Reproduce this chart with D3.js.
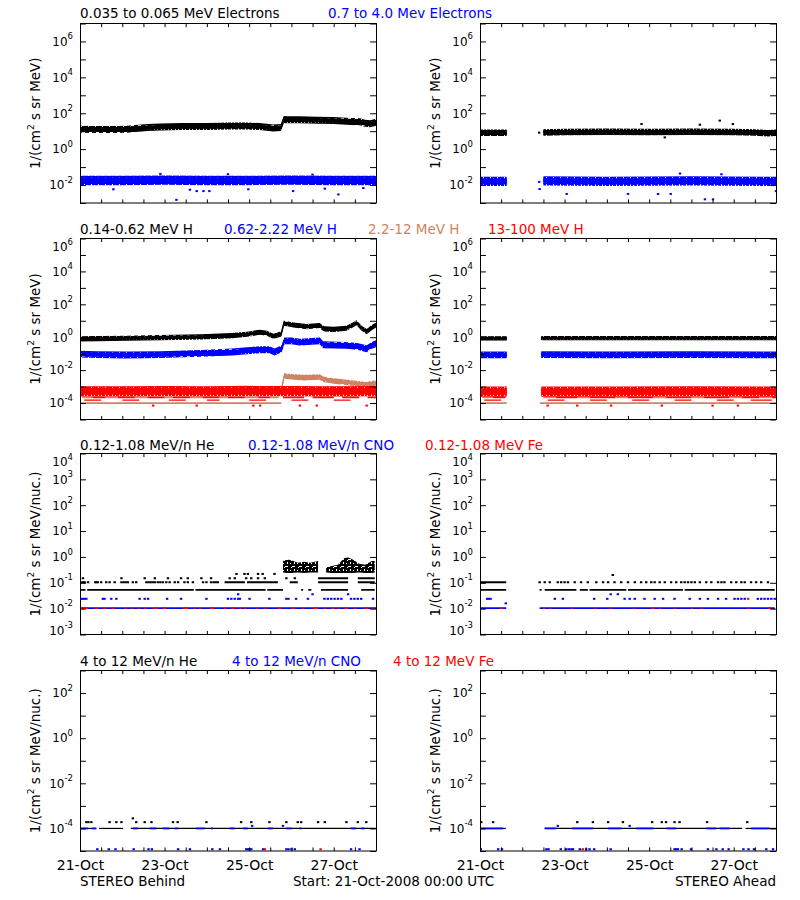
<!DOCTYPE html>
<html><head><meta charset="utf-8">
<script src="https://cdn.jsdelivr.net/npm/d3@7"></script>
<style>body{margin:0;background:#fff}svg{display:block}text{font-family:"DejaVu Sans",sans-serif}</style>
</head><body><svg id="c" width="800" height="900"></svg>
<script>
// ---------------- DATA ----------------
const START = Date.UTC(2008, 9, 21);
const xTickDays = d3.range(0, 7.01, 0.5);
const xLabelDays = [0, 2, 4, 6];
const colors = {black:"#000000", blue:"#0000ff", brown:"#cd8464", red:"#ff0000"};

const row1Titles = ["0.035 to 0.065 MeV Electrons", "0.7 to 4.0 Mev Electrons"];
const row2Titles = ["0.14-0.62 MeV H", "0.62-2.22 MeV H", "2.2-12 MeV H", "13-100 MeV H"];
const row3Titles = ["0.12-1.08 MeV/n He", "0.12-1.08 MeV/n CNO", "0.12-1.08 MeV Fe"];
const row4Titles = ["4 to 12 MeV/n He", "4 to 12 MeV/n CNO", "4 to 12 MeV Fe"];
const bottomTexts = ["STEREO Behind", "Start: 21-Oct-2008 00:00 UTC", "STEREO Ahead"];

// Row 1: electrons (band centres, days since start)
const stbElecLowT = [0,0.4,0.8,1.1,1.6,1.9,2.4,3.0,3.5,3.95,4.25,4.57,4.75,4.82,4.9,5.2,5.6,6.0,6.4,6.62,6.74,6.86,7.0];
const stbElecLowV = [13,12.6,12.3,13,16,17,18,18,19.5,19.5,18,15,16,45,43,43,41,39,35,34,27.5,26,32];
const stbElecHighT = [0,1,2,3,4,5,6,7];
const stbElecHighV = [0.018,0.018,0.019,0.018,0.018,0.019,0.018,0.018];
const stbElecHighOut = [[0.79,0.0058],[2.28,0.0015],[2.6,0.0055],[2.76,0.0046],[2.92,0.0046],[3.06,0.0046],[3.98,0.0058],[5.04,0.0046],[5.79,0.0063],[6.11,0.003],[6.7,0.0068],[1.9,0.042],[3.5,0.04],[5.5,0.038]];
const staElecLowT = [0,0.63,1.0,1.5,2,3,4,5,6,6.5,6.8,7];
const staElecLowV = [8.3,8.3,null,8.5,9,9.2,9,9.2,9,8.5,7.6,8.3];
const staElecLowOut = [[1.40,8.3],[3.82,25],[5.2,23],[5.67,39],[5.98,25],[4.37,4.5]];
const staElecHighT = [0,0.63,1.0,1.5,3,5,7];
const staElecHighV = [0.016,0.016,null,0.017,0.016,0.017,0.016];
const staElecHighOut = [[1.40,0.015],[1.41,0.006],[2.05,0.0032],[3.5,0.0032],[4.21,0.0032],[4.51,0.0032],[5.32,0.0016],[5.51,0.0016],[7.0,0.0046],[4.73,0.044],[5.71,0.04]];

// Row 2: protons
const stbH1T = [0,0.4,1.1,1.9,2.85,3.6,4.0,4.25,4.42,4.57,4.69,4.76,4.82,4.9,5.05,5.36,5.67,5.72,5.78,6.0,6.3,6.42,6.54,6.66,6.78,6.9,7.0];
const stbH1V = [0.79,0.83,0.87,0.95,1.05,1.26,1.58,2.0,1.74,1.15,1.38,1.6,6.9,6.6,5.5,4.4,5.2,4.0,3.2,3.0,3.5,5.0,7.6,3.5,2.2,3.8,5.5];
const stbH2T = [0,0.4,1.1,1.9,2.85,3.6,4.25,4.48,4.6,4.72,4.77,4.83,5.0,5.2,5.67,5.75,6.3,6.55,6.78,6.9,7.0];
const stbH2V = [0.095,0.087,0.083,0.087,0.105,0.126,0.174,0.174,0.126,0.174,0.2,0.6,0.6,0.5,0.6,0.35,0.32,0.28,0.2,0.32,0.4];
const stbH3T = [4.77,4.83,5.0,5.3,5.67,5.75,6.0,6.38,6.78,6.95,7.0];
const stbH3V = [0.0008,0.0044,0.004,0.0035,0.0038,0.0028,0.0022,0.0017,0.0013,0.0016,0.0015];
const stbH4T = [0,1,2,3,4,5,6,7];
const stbH4V = [5.2e-4,5.2e-4,5.3e-4,5.2e-4,5.4e-4,5.3e-4,5.2e-4,5.3e-4];
const stbH3Base1 = [[0,4.76]];
const stbH3Base2 = [[0.05,0.3],[0.6,0.9],[1.3,1.6],[2.0,2.2],[2.6,2.9],[3.3,3.5],[3.9,4.2],[4.5,4.7]];
const stbH4Base2 = [[0.3,0.6],[0.9,1.3],[1.6,2.0],[2.2,2.6],[2.9,3.3],[3.5,3.9],[4.2,4.5],[4.8,5.3],[5.5,6.0],[6.2,6.6],[6.8,7.0]];
const stbH4Base15 = [[0.1,0.5],[1.0,1.4],[2.1,2.5],[3.0,3.3],[4.0,4.4],[5.0,5.4],[6.0,6.4]];
const stbH4Low = [1.73,2.76,4.1,4.26,5.2,5.6,6.78];
const staH1T = [0,0.63,1.0,1.45,3,5,7];
const staH1V = [0.85,0.85,null,0.87,0.87,0.88,0.87];
const staH2T = [0,0.63,1.0,1.45,3,5,7];
const staH2V = [0.085,0.085,null,0.088,0.085,0.088,0.085];
const staH4T = [0,0.63,1.0,1.45,3,5,7];
const staH4V = [5.0e-4,5.0e-4,null,5.0e-4,5.0e-4,5.1e-4,5.0e-4];
const staH3Base1 = [[0,0.63],[1.42,7]];
const staH3Base2 = [[0.05,0.3],[1.5,1.8],[2.3,2.6],[3.2,3.5],[4.1,4.4],[5.0,5.3],[5.9,6.2],[6.6,6.9]];
const staH4Base2 = [[0.3,0.6],[1.8,2.3],[2.6,3.2],[3.5,4.1],[4.4,5.0],[5.3,5.9],[6.2,6.6],[6.9,7.0]];
const staH4Base15 = [[0.1,0.5],[1.6,2.0],[2.6,3.0],[3.6,4.0],[4.6,5.0],[5.6,6.0],[6.4,6.9]];
const staH4Low = [1.6,2.3,3.1,4.3,5.5,6.1];

// Row 3: 0.12-1.08 MeV/n ions (count-quantised levels)
const stbHeLine05 = [[0.0,0.13],[0.17,2.69],[2.73,4.39],[4.43,4.8],[5.23,5.27],[5.4,5.47],[5.7,6.34],[6.65,6.97]];
const stbHeDots01 = [0.03,0.08,0.11,0.19,0.36,0.39,0.42,0.5,0.62,0.7,0.82,0.98,1.03,1.08,1.13,1.25,1.33,1.57,1.62,1.67,1.72,1.77,1.84,1.9,1.96,2.04,2.12,2.24,2.32,2.47,2.55,2.67,2.91,2.99,3.1,3.16,3.21,3.26];
const stbHeLine01 = [[3.42,3.9],[3.95,4.68],[4.96,5.15],[5.63,6.34],[6.57,6.97]];
const stbHeDots015 = [0.07,0.98,1.53,1.77,2.08,2.39,2.55,2.87,3.1,3.54,3.66,3.93,4.05,4.21,4.37,4.88,5.08];
const stbHeLine015 = [[5.63,6.34],[6.57,6.97]];
const stbHeDots02 = [3.7,3.89,3.97,4.21,4.32,4.6];
const stbHeCloudT  = [4.8,4.9,5.0,5.15,5.3,5.45,5.63,5.7,5.82,5.95,6.1,6.25,6.35,6.45,6.6,6.75,6.9,6.97];
const stbHeCloudLo = [0.25,0.24,0.24,0.25,0.24,0.25,0.25,null,0.25,0.24,0.24,0.24,0.24,0.24,0.25,0.24,0.24,0.25];
const stbHeCloudHi = [0.7,0.8,0.75,0.6,0.65,0.6,0.7,null,0.4,0.45,0.5,0.9,0.95,0.8,0.55,0.5,0.7,0.7];
const stbCnoDots025 = [0.03,0.07,0.11,0.15,0.54,0.58,0.74,0.86,1.41,1.53,1.61,2.06,2.39,2.99,3.5,3.58,3.66,3.74,3.78,4.01,4.48,4.88,4.93,5.11,5.39,5.78,5.86,5.94,6.02,6.1,6.18,6.41,6.49,6.57,6.65,6.93];
const stbCnoDots04 = [3.74,5.5,6.34];
const stbCnoLine01 = [[0,7]];
const stbFeSegs01 = [[0.0,0.19],[0.35,0.43],[0.54,0.62],[0.74,0.82],[1.06,1.1],[1.21,1.25],[1.36,1.38],[1.52,1.54],[1.73,1.84],[1.96,2.04],[2.43,2.55],[2.7,2.72],[2.82,2.84],[3.07,3.18],[3.41,3.43],[3.58,3.66],[3.77,3.79],[3.88,3.9],[4.17,4.21],[4.36,4.38],[4.68,4.76],[5.0,5.08],[5.26,5.28],[5.51,5.63],[5.77,5.79],[5.94,6.02],[6.09,6.11],[6.26,6.34],[6.48,6.5],[6.73,6.81],[6.89,6.97]];
const staHeLine05 = [[0.016,0.62],[1.41,1.45],[1.53,2.28],[2.36,2.55],[2.59,3.46],[3.5,4.8],[4.84,6.97]];
const staHeLine01 = [[0.016,0.62]];
const staHeDots01 = [1.41,1.53,1.65,1.84,1.92,2.0,2.08,2.24,2.39,2.55,2.75,2.91,3.03,3.18,3.34,3.5,3.66,3.81,3.93,4.05,4.13,4.25,4.37,4.52,4.64,4.76,4.84,4.92,5.0,5.08,5.2,5.35,5.47,5.63,5.71,5.78,5.94,6.06,6.18,6.26,6.41,6.53,6.65,6.81];
const staHeDots02 = [3.14];
const staCnoDots025 = [0.17,0.21,0.25,1.77,1.96,2.7,3.01,3.42,3.54,3.66,3.89,4.13,4.33,4.6,4.96,5.2,5.39,5.63,5.82,6.02,6.1,6.18,6.26,6.57,6.65,6.73,6.81,6.89,6.97];
const staCnoDots04 = [3.09,3.26];
const staCnoDots016 = [0.61];
const staCnoLine01 = [[0.016,0.62],[1.41,6.97]];
const staFeSegs01 = [[0.47,0.54],[1.49,1.53],[1.64,1.66],[2.16,2.2],[2.7,2.72],[3.06,3.08],[3.62,3.66],[4.05,4.13],[4.24,4.26],[4.59,4.61],[4.99,5.01],[5.22,5.24],[6.33,6.35],[6.81,6.89]];
const staFeDots025 = [6.34];

// Row 4: 4-12 MeV/n ions
const stbHe4Line = [[0,0.38],[0.45,1.02],[1.2,7.0]];
const stbHe4Dots2 = [0.15,0.2,0.27,0.7,0.86,0.98,1.33,1.53,1.69,2.2,2.31,2.99,3.81,4.05,4.48,4.88,5.15,5.23,5.63,5.79,6.3,6.57,6.77];
const stbHe4Dots3 = [1.25];
const stbCno4Segs = [[0.03,0.19],[0.27,0.39],[1.25,1.37],[1.65,1.81],[1.96,2.12],[2.24,2.32],[2.75,2.95],[3.1,3.12],[3.54,3.66],[3.86,3.97],[4.44,4.56],[4.88,5.0],[5.19,5.21],[6.41,6.53],[6.65,6.73]];
const stbCno4High = [4.07,4.8];
const stbCno4Low = [0.41,0.68,0.84,1.27,1.62,1.7,2.32,2.6,3.13,3.31,3.93,3.97,4.01,4.05,4.33,4.88,4.93,5.0,5.08,6.41,6.61];
const stbFe4Low = [4.37,5.69];
const staHe4Line = [[0,0.61],[1.53,6.2],[6.28,7.0]];
const staHe4Dots2 = [0.03,0.31,2.3,2.67,3.03,3.38,4.07,4.3,4.4,4.6,4.72,5.37,6.32];
const staCno4Segs = [[0.02,0.55],[1.53,1.8],[2.18,2.67],[3.03,3.34],[3.7,4.1],[4.41,4.64],[5.35,5.59],[5.67,5.9],[6.41,6.84]];
const staCno4High = [1.84,3.54];
const staCno4Low = [0.02,0.43,0.52,1.57,1.62,1.91,2.04,2.1,2.16,2.2,2.36,2.51,2.59,2.7,3.09,4.6,4.64,4.68,4.77,4.99,5.39,5.59,5.74,5.88,6.23,6.35,6.48,6.77,6.93];
const staFe4Low = [2.43];

// ---------------- LAYOUT ----------------
const svg = d3.select("#c");
const colX = [80, 480], PW = 296;
const rowLayout = [
  {top:23.5, bot:203, dom:[1e-3,1e7], lab:[-2,0,2,4,6], unit:"MeV)", ty:18},
  {top:238.5, bot:419.5, dom:[1e-5,1e6], lab:[-4,-2,0,2,4,6], unit:"MeV)", ty:234},
  {top:453.5, bot:634.5, dom:[1e-3,1e4], lab:[-3,-2,-1,0,1,2,3,4], unit:"MeV/nuc.)", ty:450},
  {top:670.5, bot:851, dom:[1e-5,1e3], lab:[-4,-2,0,2], unit:"MeV/nuc.)", ty:666}
];
const toDate = d => new Date(START + d * 864e5);

const defs = svg.append("defs");
// irregular speckle tiles to imitate dense scatter of small symbols
const speckleCells = [[0,0],[2,0],[5,0],[1,2],[3,1],[4,3],[0,4],[2,4],[5,4],[3,5],[1,5],[5,2]];
function makeSpeckle(id, color) {
  const pt = defs.append("pattern").attr("id", id).attr("width", 7).attr("height", 7).attr("patternUnits", "userSpaceOnUse");
  speckleCells.forEach(c => pt.append("rect").attr("x", c[0]).attr("y", c[1]).attr("width", 2).attr("height", 2).attr("fill", color));
}
Object.entries(colors).forEach(([k, v]) => makeSpeckle("sp-" + k, v));

function makePanel(r, c) {
  const L = rowLayout[r];
  const xs = d3.scaleUtc().domain([toDate(0), toDate(7)]).range([colX[c], colX[c] + PW]);
  const y = d3.scaleLog().domain(L.dom).range([L.bot, L.top]);
  const id = "clip" + r + c;
  defs.append("clipPath").attr("id", id).append("rect")
    .attr("x", colX[c]).attr("y", L.top).attr("width", PW).attr("height", L.bot - L.top);
  const g = svg.append("g").attr("clip-path", `url(#${id})`);
  return {x: d => xs(toDate(d)), xs, y, g, r, c};
}

function band(p, t, v, spread, key) {
  const data = t.map((d, i) => ({t: d, v: v[i]}));
  const mk = s => { const k = Math.pow(10, s);
    return d3.area().defined(d => d.v != null).x(d => p.x(d.t)).y0(d => p.y(d.v / k)).y1(d => p.y(d.v * k)); };
  p.g.append("path").datum(data).attr("fill", `url(#sp-${key})`).attr("d", mk(spread * 1.3));
  p.g.append("path").datum(data).attr("fill", colors[key]).attr("stroke", colors[key]).attr("stroke-width", 0.5).attr("d", mk(spread * 0.8));
}
function bandLoHi(p, t, lo, hi, key) {
  const data = t.map((d, i) => ({t: d, lo: lo[i], hi: hi[i]}));
  p.g.append("path").datum(data).attr("fill", `url(#sp-${key})`)
    .attr("d", d3.area().defined(d => d.lo != null).x(d => p.x(d.t)).y0(d => p.y(d.lo)).y1(d => p.y(d.hi)));
}
function segs(p, list, value, color, w) {
  p.g.selectAll(null).data(list).enter().append("line")
    .attr("x1", d => p.x(d[0])).attr("x2", d => Math.max(p.x(d[1]), p.x(d[0]) + 2))
    .attr("y1", p.y(value)).attr("y2", p.y(value))
    .attr("stroke", color).attr("stroke-width", w || 1.8);
}
function dots(p, days, value, color) {
  p.g.selectAll(null).data(days).enter().append("rect")
    .attr("x", d => p.x(d) - 1.2).attr("y", p.y(value) - 1).attr("width", 2.4).attr("height", 2).attr("fill", color);
}
function pts(p, pairs, color) {
  p.g.selectAll(null).data(pairs).enter().append("rect")
    .attr("x", d => p.x(d[0]) - 1.2).attr("y", d => p.y(d[1]) - 1).attr("width", 2.4).attr("height", 2).attr("fill", color);
}

function drawAxes(p) {
  const L = rowLayout[p.r], x0 = colX[p.c];
  const ga = svg.append("g");
  const fmt = d3.utcFormat("%d-%b");
  const bottom = d3.axisBottom(p.xs).tickValues(xTickDays.map(toDate)).tickSize(-3.6).tickSizeOuter(0).tickPadding(9)
    .tickFormat(d => (p.r === 3 && xLabelDays.some(k => +toDate(k) === +d)) ? fmt(d) : "");
  const top = d3.axisTop(p.xs).tickValues(xTickDays.map(toDate)).tickSize(-3.6).tickSizeOuter(0).tickFormat("");
  const dec = d3.range(Math.round(Math.log10(L.dom[0])), Math.round(Math.log10(L.dom[1])) + 1).map(e => Math.pow(10, e));
  const left = d3.axisLeft(p.y).tickValues(dec).tickSize(-5.9).tickSizeOuter(0).tickFormat("");
  const right = d3.axisRight(p.y).tickValues(dec).tickSize(-5.9).tickSizeOuter(0).tickFormat("");
  const b = ga.append("g").attr("transform", `translate(0,${L.bot})`).call(bottom);
  ga.append("g").attr("transform", `translate(0,${L.top})`).call(top);
  ga.append("g").attr("transform", `translate(${x0},0)`).call(left);
  ga.append("g").attr("transform", `translate(${x0 + PW},0)`).call(right);
  ga.selectAll(".domain").remove();
  ga.selectAll(".tick line").attr("stroke", "#000").attr("stroke-width", 1);
  b.selectAll("text").attr("font-family", "DejaVu Sans").attr("font-size", 14).attr("fill", "#000");
  ga.append("rect").attr("x", x0 + 0.5).attr("y", L.top).attr("width", PW).attr("height", L.bot - L.top)
    .attr("fill", "none").attr("stroke", "#000").attr("stroke-width", 1);
  // y tick labels 10^n, kept inside the vertical extent of the frame
  L.lab.forEach(e => {
    const base = Math.min(Math.max(p.y(Math.pow(10, e)) + 4.3, L.top + 12.7), L.bot);
    const t = svg.append("text").attr("x", x0 - 7).attr("y", base)
      .attr("text-anchor", "end").attr("font-size", 12).attr("fill", "#000");
    t.append("tspan").text("10");
    t.append("tspan").attr("dy", -6.7).attr("font-size", 8.5).text(String(e));
  });
  // y title
  const yt = svg.append("text").attr("transform", `translate(${x0 - 40},${(L.top + L.bot) / 2}) rotate(-90)`)
    .attr("text-anchor", "middle").attr("font-size", 13.5).attr("fill", "#000");
  yt.append("tspan").text("1/(cm");
  yt.append("tspan").attr("dy", -6).attr("font-size", 9).text("2");
  yt.append("tspan").attr("dy", 6).text(" s sr " + L.unit);
}

function titles(r, list, xs, cols) {
  list.forEach((s, i) => svg.append("text").attr("x", xs[i]).attr("y", rowLayout[r].ty)
    .attr("font-size", 13.5).attr("fill", cols[i]).text(s));
}

// ---------------- DRAW ----------------
const P = [0,1,2,3].map(r => [0,1].map(c => makePanel(r, c)));
const K = colors;

// Row 1
band(P[0][0], stbElecLowT, stbElecLowV, 0.15, "black");
band(P[0][0], stbElecHighT, stbElecHighV, 0.2, "blue");
pts(P[0][0], stbElecHighOut, K.blue);
band(P[0][1], staElecLowT, staElecLowV, 0.14, "black");
pts(P[0][1], staElecLowOut, K.black);
band(P[0][1], staElecHighT, staElecHighV, 0.2, "blue");
pts(P[0][1], staElecHighOut, K.blue);

// Row 2
band(P[1][0], stbH1T, stbH1V, 0.12, "black");
band(P[1][0], stbH2T, stbH2V, 0.16, "blue");
band(P[1][0], stbH3T, stbH3V, 0.13, "brown");
segs(P[1][0], stbH3Base1, 1e-4, K.brown);
segs(P[1][0], stbH3Base2, 2.2e-4, K.brown);
band(P[1][0], stbH4T, stbH4V, 0.24, "red");
segs(P[1][0], stbH4Base2, 2.2e-4, K.red);
segs(P[1][0], stbH4Base15, 1.5e-4, K.red, 1.4);
dots(P[1][0], stbH4Low, 7e-5, K.red);
band(P[1][1], staH1T, staH1V, 0.1, "black");
band(P[1][1], staH2T, staH2V, 0.16, "blue");
segs(P[1][1], staH3Base1, 1e-4, K.brown);
segs(P[1][1], staH3Base2, 2.2e-4, K.brown);
band(P[1][1], staH4T, staH4V, 0.24, "red");
segs(P[1][1], staH4Base2, 2.2e-4, K.red);
segs(P[1][1], staH4Base15, 1.5e-4, K.red, 1.4);
dots(P[1][1], staH4Low, 7e-5, K.red);

// Row 3
{
  const p = P[2][0];
  segs(p, stbHeLine05, 0.053, K.black);
  dots(p, stbHeDots01, 0.105, K.black);
  segs(p, stbHeLine01, 0.105, K.black);
  dots(p, stbHeDots015, 0.15, K.black);
  segs(p, stbHeLine015, 0.15, K.black);
  dots(p, stbHeDots02, 0.22, K.black);
  bandLoHi(p, stbHeCloudT, stbHeCloudLo, stbHeCloudHi, "black");
  dots(p, stbCnoDots025, 0.024, K.blue);
  dots(p, stbCnoDots04, 0.036, K.blue);
  segs(p, stbCnoLine01, 0.0105, K.blue);
  segs(p, stbFeSegs01, 0.0105, K.red);
  const q = P[2][1];
  segs(q, staHeLine05, 0.053, K.black);
  segs(q, staHeLine01, 0.105, K.black);
  dots(q, staHeDots01, 0.105, K.black);
  dots(q, staHeDots02, 0.2, K.black);
  dots(q, staCnoDots025, 0.024, K.blue);
  dots(q, staCnoDots04, 0.036, K.blue);
  dots(q, staCnoDots016, 0.016, K.blue);
  segs(q, staCnoLine01, 0.0105, K.blue);
  segs(q, staFeSegs01, 0.0105, K.red);
  dots(q, staFeDots025, 0.024, K.red);
}
// Row 4
{
  const p = P[3][0];
  segs(p, stbHe4Line, 1e-4, K.black, 1.2);
  dots(p, stbHe4Dots2, 1.9e-4, K.black);
  dots(p, stbHe4Dots3, 2.8e-4, K.black);
  segs(p, stbCno4Segs, 1e-4, K.blue, 1.8);
  dots(p, stbCno4High, 1.3e-4, K.blue);
  dots(p, stbCno4Low, 1.2e-5, K.blue);
  dots(p, stbFe4Low, 1.2e-5, K.red);
  const q = P[3][1];
  segs(q, staHe4Line, 1e-4, K.black, 1.2);
  dots(q, staHe4Dots2, 1.9e-4, K.black);
  segs(q, staCno4Segs, 1e-4, K.blue, 1.8);
  dots(q, staCno4High, 1.3e-4, K.blue);
  dots(q, staCno4Low, 1.2e-5, K.blue);
  dots(q, staFe4Low, 1.2e-5, K.red);
}

P.flat().forEach(drawAxes);

titles(0, row1Titles, [80, 328], [K.black, K.blue]);
titles(1, row2Titles, [80, 224, 368, 488], [K.black, K.blue, K.brown, K.red]);
titles(2, row3Titles, [80, 248, 425], [K.black, K.blue, K.red]);
titles(3, row4Titles, [80, 232, 393], [K.black, K.blue, K.red]);

svg.append("text").attr("x", 80).attr("y", 886).attr("font-size", 13.5).text(bottomTexts[0]);
svg.append("text").attr("x", 293).attr("y", 886).attr("font-size", 13.5).text(bottomTexts[1]);
svg.append("text").attr("x", 776).attr("y", 886).attr("font-size", 13.5).attr("text-anchor", "end").text(bottomTexts[2]);
</script></body></html>
